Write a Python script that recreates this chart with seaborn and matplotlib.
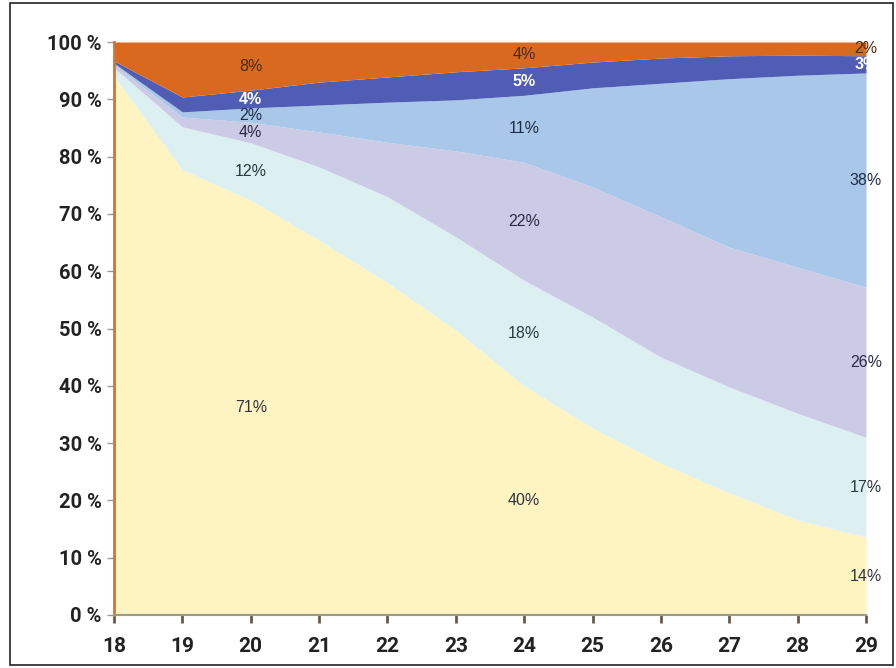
import numpy as np
import pandas as pd
import seaborn as sns
import matplotlib.pyplot as plt
from matplotlib.patches import Rectangle

sns.set_theme(style="white")
plt.rcParams['font.family'] = ['Roboto', 'DejaVu Sans']

# Ages on the x axis
ages = [18, 19, 20, 21, 22, 23, 24, 25, 26, 27, 28, 29]

# Layer shares (%), bottom to top
yellow_share = [94.0, 77.7, 72.4, 65.4, 58.0, 49.7, 40.0, 32.6, 26.5, 21.3, 16.6, 13.6]
cyan_share = [1.5, 7.5, 10.0, 12.8, 15.0, 16.3, 18.4, 19.4, 18.5, 18.5, 18.6, 17.4]
lavender_share = [0.5, 1.7, 3.6, 6.1, 9.5, 15.0, 20.6, 22.7, 24.5, 24.4, 25.5, 26.2]
lightblue_share = [0.3, 0.9, 2.5, 4.7, 7.0, 8.9, 11.7, 17.3, 23.3, 29.4, 33.5, 37.4]
darkblue_share = [0.4, 2.6, 3.1, 4.0, 4.4, 4.9, 4.8, 4.5, 4.4, 4.0, 3.5, 3.0]
orange_share = [3.3, 9.6, 8.4, 7.0, 6.1, 5.2, 4.5, 3.5, 2.8, 2.4, 2.3, 2.4]

# Printed labels at three ages (bottom to top)
label_ages = [20, 24, 29]
labels_20 = ["71%", "12%", "4%", "2%", "4%", "8%"]
labels_24 = ["40%", "18%", "22%", "11%", "5%", "4%"]
labels_29 = ["14%", "17%", "26%", "38%", "3%", "2%"]

y_ticks = [0, 10, 20, 30, 40, 50, 60, 70, 80, 90, 100]
y_ticklabels = [f"{v} %" for v in y_ticks]

colors = ["#fdf4c2", "#ddf0f1", "#cccbe6", "#a9c7e8", "#4f5db4", "#d9691f"]
text_colors = ["#333340", "#2a3a40", "#2a2a48", "#1f2e4a", "white", "#4a2a10"]

df = pd.DataFrame({
    "age": ages,
    "yellow": yellow_share,
    "cyan": cyan_share,
    "lavender": lavender_share,
    "lightblue": lightblue_share,
    "darkblue": darkblue_share,
    "orange": orange_share,
})
layers = ["yellow", "cyan", "lavender", "lightblue", "darkblue", "orange"]

fig = plt.figure(figsize=(8.96, 6.68), dpi=100)
ax = fig.add_axes([114 / 896, 1 - 615 / 668, (866 - 114) / 896, (615 - 42) / 668])

ax.stackplot(df["age"], [df[c] for c in layers], colors=colors, linewidth=0)

# band labels at the midpoints of each layer
cum = df[layers].cumsum(axis=1)
for age, labs in zip(label_ages, [labels_20, labels_24, labels_29]):
    row = df.index[df["age"] == age][0]
    for i, lab in enumerate(labs):
        top = cum.iloc[row, i]
        bottom = cum.iloc[row, i - 1] if i > 0 else 0
        white = text_colors[i] == "white"
        ax.text(age, (top + bottom) / 2, lab, ha="center", va="center",
                fontsize=11.5, color=text_colors[i],
                fontweight="bold" if white else "normal",
                family=["Liberation Sans", "DejaVu Sans"])

ax.set_xlim(18, 29)
ax.set_ylim(0, 100)
ax.set_xticks(ages)
ax.set_xticklabels([str(a) for a in ages], fontsize=15, fontweight="bold", color="#222222")
ax.set_yticks(y_ticks)
ax.set_yticklabels(y_ticklabels, fontsize=14.5, fontweight="bold", color="#222222")
ax.tick_params(axis="x", length=6, width=2, color="#6b5a4a", pad=10, direction="out")
ax.tick_params(axis="y", length=5, width=1, color="#999999", pad=4, direction="out")
ax.tick_params(bottom=True, left=True)

sns.despine(ax=ax, top=True, right=True)
ax.spines["left"].set_color("#c8783a")
ax.spines["left"].set_linewidth(2)
ax.spines["bottom"].set_color("#9a9a88")
ax.spines["bottom"].set_linewidth(1.5)
ax.grid(False)

# frame around the whole picture
fig.patches.append(Rectangle((10 / 896, 3 / 668), 883 / 896, 662 / 668,
                             transform=fig.transFigure, fill=False,
                             edgecolor="#222222", linewidth=1.2))

fig.savefig("out.png", dpi=100)
